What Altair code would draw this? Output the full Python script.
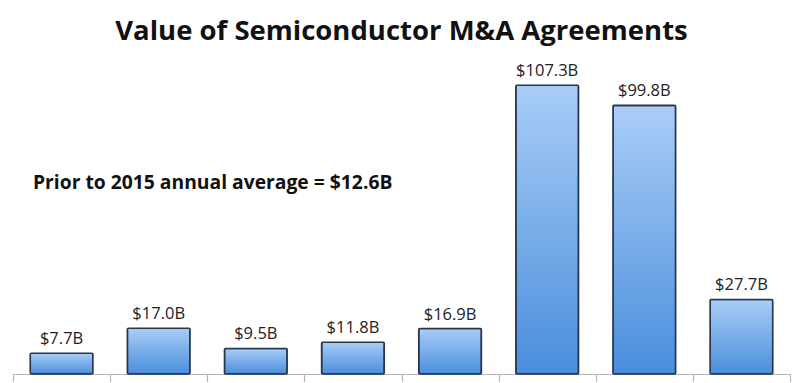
import altair as alt
import pandas as pd

years = ["2010", "2011", "2012", "2013", "2014", "2015", "2016", "2017"]
values = [7.7, 17.0, 9.5, 11.8, 16.9, 107.3, 99.8, 27.7]
labels = ["$7.7B", "$17.0B", "$9.5B", "$11.8B", "$16.9B", "$107.3B", "$99.8B", "$27.7B"]
title_text = "Value of Semiconductor M&A Agreements"
note_text = "Prior to 2015 annual average = $12.6B"
note_y = 71

df = pd.DataFrame({"year": years, "value": values, "label": labels})

xscale = alt.Scale(paddingInner=0, paddingOuter=0)
yscale = alt.Scale(domain=[0, 120])

gradient = alt.LinearGradient(
    gradient="linear",
    stops=[alt.GradientStop(color="#a9cdf7", offset=0),
           alt.GradientStop(color="#4a8edc", offset=1)],
    x1=0, x2=0, y1=0, y2=1,
)

base = alt.Chart(df)

bars = base.mark_bar(
    width=alt.RelativeBandSize(0.645),
    color=gradient, stroke="#26364c", strokeWidth=1.6, cornerRadius=1
).encode(
    x=alt.X("year:N", scale=xscale, axis=alt.Axis(
        title=None, labels=False, tickBand="extent", domainColor="#b5b5b5",
        tickColor="#b5b5b5", tickSize=9, domainWidth=1.2, tickWidth=1.2,
        grid=False)),
    y=alt.Y("value:Q", scale=yscale, axis=None),
)

text = base.mark_text(
    baseline="bottom", dy=-6, fontSize=16.5, font="Open Sans", color="#222222"
).encode(
    x=alt.X("year:N", scale=xscale),
    y=alt.Y("value:Q", scale=yscale),
    text="label:N",
)

note = alt.Chart(pd.DataFrame({"t": [note_text], "y": [note_y]})).mark_text(
    align="left", baseline="middle", fontSize=19.3, fontWeight="bold",
    font="Open Sans", color="#111111"
).encode(
    x=alt.value(20),
    y=alt.Y("y:Q", scale=yscale),
    text="t:N",
)

chart = alt.layer(bars, text, note).properties(
    width=777, height=323,
    title=alt.TitleParams(title_text, fontSize=27.5, font="Open Sans",
                          fontWeight="bold", color="#111111", anchor="middle",
                          offset=6),
    autosize=alt.AutoSizeParams(type="none"),
    padding={"left": 5, "top": 43, "right": 2, "bottom": 8},
    view=alt.ViewBackground(stroke="transparent", strokeWidth=0),
).configure_view(strokeWidth=0, stroke="transparent").configure(background="white")

chart.save("out.html", embed_options={"renderer": "svg", "actions": False})
